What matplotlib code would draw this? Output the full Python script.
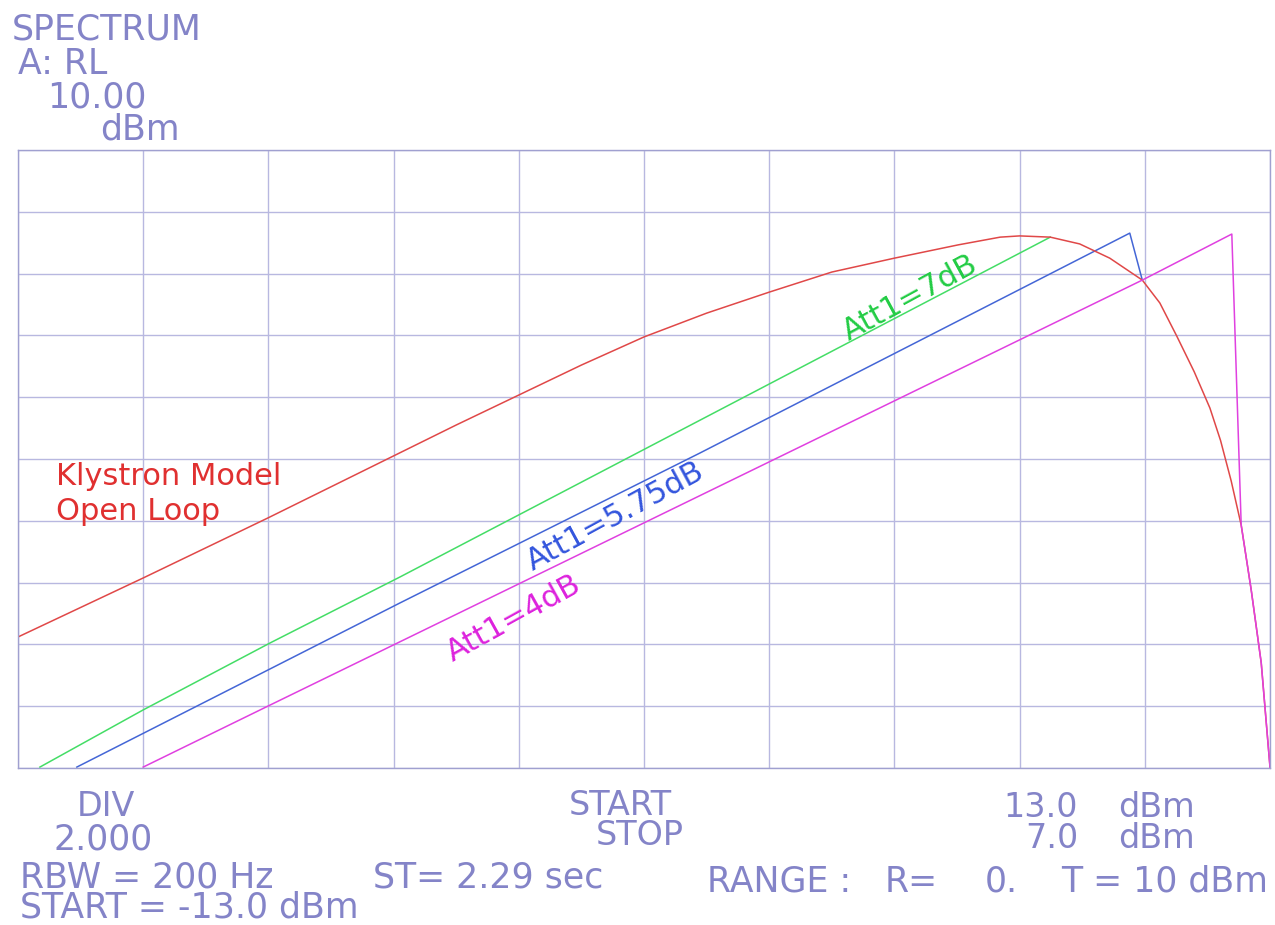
import numpy as np
import matplotlib.pyplot as plt

# klystron open-loop transfer curve (input dBm -> output dBm)
klystron_in = [-13.0, -11.0, -9.0, -7.0, -6.0, -5.0, -4.0, -3.0, -2.0, -1.0, 0.0,
               1.0, 2.02, 2.69, 3.0, 3.49, 3.96, 4.44, 4.96, 5.24, 5.51, 5.79,
               6.04, 6.21, 6.38, 6.54, 6.70, 6.86, 7.0]
klystron_out = [-5.76, -3.85, -1.9, 0.1, 1.1, 2.07, 3.04, 3.95, 4.72, 5.40, 6.05,
                6.50, 6.93, 7.18, 7.22, 7.18, 6.96, 6.50, 5.79, 5.05, 3.98, 2.82,
                1.65, 0.60, -0.71, -2.14, -4.24, -6.60, -9.97]

att7_in = [-12.65, -11.0, -8.97, -6.9, 3.49]
att7_out = [-9.97, -8.12, -5.95, -3.82, 7.18]

att575_in = [-12.06, -6.90, -2.11, 4.76, 4.96]
att575_out = [-9.97, -4.66, 0.19, 7.31, 5.79]

att4_in = [-11.0, -8.97, 4.96, 6.39, 6.54, 6.70, 6.86, 7.0]
att4_out = [-9.97, -7.96, 5.79, 7.28, -2.14, -4.24, -6.60, -9.97]

W, H = 1275, 925
txt_col = '#8484c8'

fig = plt.figure(figsize=(W / 100, H / 100), dpi=100)
ax = fig.add_axes([18 / W, (H - 768) / H, 1252 / W, 618 / H])

ax.set_xlim(-13, 7)
ax.set_ylim(-10, 10)
ax.set_xticks(np.arange(-13, 8, 2))
ax.set_yticks(np.arange(-10, 11, 2))
ax.grid(True, color='#b8b8e0', lw=1.0)
ax.tick_params(length=0, labelbottom=False, labelleft=False)
for s in ax.spines.values():
    s.set_color('#a0a0d0')
    s.set_linewidth(1.0)

ax.plot(att7_in, att7_out, color='#44dd66', lw=1.1)
ax.plot(att575_in, att575_out, color='#4466d6', lw=1.1)
ax.plot(klystron_in, klystron_out, color='#e04848', lw=1.1)
ax.plot(att4_in, att4_out, color='#e040e0', lw=1.1)

# curve labels
ax.text(-12.4, -0.85, 'Klystron Model', color='#e03030', fontsize=22, va='baseline')
ax.text(-12.4, -1.97, 'Open Loop', color='#e03030', fontsize=22, va='baseline')
ax.text(1.25, 5.2, 'Att1=7dB', color='#22cc44', fontsize=22, rotation=28.5,
        ha='center', va='center', rotation_mode='anchor')
ax.text(-3.46, -1.85, 'Att1=5.75dB', color='#3355dd', fontsize=22, rotation=28.5,
        ha='center', va='center', rotation_mode='anchor')
ax.text(-5.08, -5.15, 'Att1=4dB', color='#dd22dd', fontsize=22, rotation=29,
        ha='center', va='center', rotation_mode='anchor')


def put(x, y, s, size=25, ha='left'):
    fig.text(x / W, 1 - y / H, s, color=txt_col, fontsize=size, ha=ha, va='baseline')


# header
put(12, 40, 'SPECTRUM', 25)
put(18, 74, 'A: RL', 25)
put(47, 107, '10.00', 25)
put(100, 139, 'dBm', 25)

# footer
put(106, 816, 'DIV', 24, ha='center')
put(103, 850, '2.000', 25, ha='center')
put(20, 887, 'RBW = 200 Hz', 25)
put(373, 887, 'ST= 2.29 sec', 25)
put(20, 918, 'START = -13.0 dBm', 25)
put(672, 815, 'START', 24, ha='right')
put(684, 845, 'STOP', 24, ha='right')
put(1078, 817, '13.0', 24, ha='right')
put(1118, 817, 'dBm', 24)
put(1078, 848, '7.0', 24, ha='right')
put(1118, 848, 'dBm', 24)
put(707, 892, 'RANGE :', 25)
put(885, 892, 'R=', 25)
put(985, 892, '0.', 25)
put(1268, 892, 'T = 10 dBm', 25, ha='right')

fig.savefig('out.png', dpi=100, facecolor='white')
